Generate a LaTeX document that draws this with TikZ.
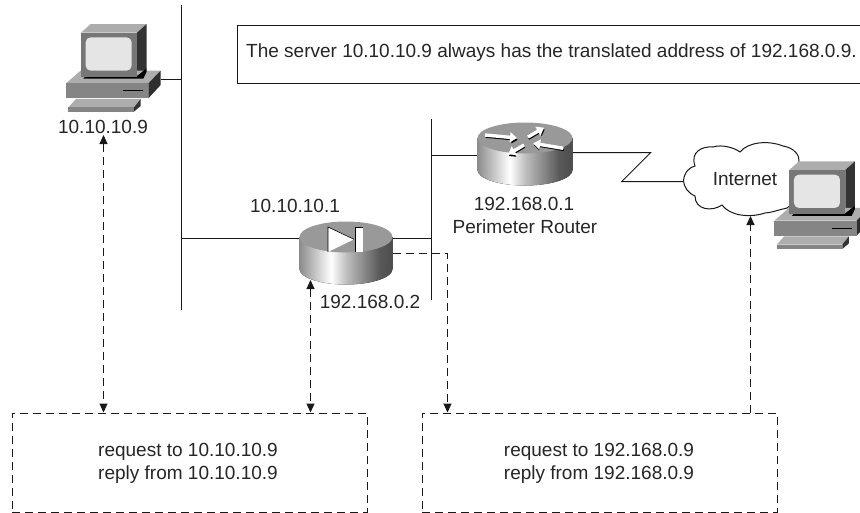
\documentclass[tikz,border=0pt]{standalone}
\usepackage{fontspec}
\setmainfont{Liberation Sans}
\usetikzlibrary{arrows.meta}
\definecolor{mgray}{gray}{0.52}
\definecolor{tgray}{gray}{0.68}
\definecolor{dgray}{gray}{0.2}
\definecolor{sgray}{gray}{0.9}
\pgfdeclarehorizontalshading{cyl}{100bp}{color(0bp)=(black!45);color(25bp)=(black!45);color(42bp)=(white);color(50bp)=(black!25);color(68bp)=(black!65);color(75bp)=(black!70);color(100bp)=(black!70)}
\tikzset{
  x=1pt,y=-1pt,
  wire/.style={line width=1pt,black!90},
  dashline/.style={line width=1pt,dash pattern=on 8pt off 5pt,black!90},
  onetip/.style={-{Triangle[length=9pt,width=8pt]}},
  twotips/.style={{Triangle[length=9pt,width=8pt]}-{Triangle[length=9pt,width=8pt]}},
  lbl/.style={font=\fontsize{19}{23}\selectfont,text=black!85,inner sep=0pt,align=center},
  pc/.pic={
    \begin{scope}[x=0.3333pt,y=-0.3333pt]
      \fill[tgray] (123,98)--(152,72)--(320,72)--(291,98)--cycle;
      \fill[dgray] (291,98)--(320,72)--(320,205)--(291,230)--cycle;
      \fill[tgray] (78,250)--(122,212)--(362,212)--(325,250)--cycle;
      \fill[black!10!dgray] (325,250)--(362,212)--(362,255)--(325,295)--cycle;
      \fill[mgray] (78,250) rectangle (325,295);
      \fill[black] (138,228)--(291,228)--(320,205)--(320,215)--(310,236)--(130,236)--cycle;
      \fill[mgray!90!black] (123,98) rectangle (291,230);
      \fill[sgray,rounded corners=5pt] (137,112) rectangle (275,212);
      \draw[black,line width=1pt] (250,273)--(310,273);
      \fill[tgray] (108,297)--(302,297)--(282,322)--(85,322)--cycle;
      \fill[mgray] (85,322) rectangle (282,335);
      \fill[dgray] (282,322)--(302,297)--(302,318)--(282,335)--cycle;
    \end{scope}
  }
}
\newcommand{\cyl}[3]{% cx, top cy, rx
  \fill[shading=cyl] (#1-#3,#2) -- (#1-#3,#2+32) arc[start angle=180,end angle=0,x radius=#3,y radius=15.5] -- (#1+#3,#2) -- cycle;
  \fill[black!40] (#1,#2) ellipse[x radius=#3,y radius=15.5];
}
\newcommand{\rarrow}[4]{% white arrow with dark shadow
  \draw[black,line width=2pt,-{Triangle[length=6pt,width=8pt]}] (#1+0.7,#2+1.8)--(#3+0.7,#4+1.8);
  \draw[white,line width=3.4pt,-{Triangle[length=7pt,width=10pt]}] (#1,#2)--(#3,#4);
}
\begin{document}
\begin{tikzpicture}
\useasboundingbox (0,0) rectangle (860,512);
\fill[white] (0,0) rectangle (860,512);

% named anchors
\coordinate (bus1t) at (181.5,5);
\coordinate (bus1b) at (181.5,310);
\coordinate (bus1pc) at (181.5,79.5);
\coordinate (bus1lb) at (181.5,238.5);
\coordinate (bus2t) at (431.5,119);
\coordinate (bus2b) at (431.5,300);
\coordinate (bus2lb) at (431.5,238.5);
\coordinate (bus2r) at (431.5,155.5);
\coordinate (pcport) at (161,79.5);
\coordinate (lbl) at (299.5,238.5);
\coordinate (lbr) at (392.5,238.5);
\coordinate (lbd) at (392.5,253.5);
\coordinate (lbbot) at (310.5,280);
\coordinate (rl) at (477.5,155.5);
\coordinate (rr) at (572.5,152.5);
\coordinate (z1) at (650.7,152.5);
\coordinate (z2) at (621.7,181.5);
\coordinate (cl) at (683.5,181.5);
\coordinate (d1) at (447.5,253.5);
\coordinate (pctip) at (103.5,135);
\coordinate (cloudb) at (750.5,216);

% boxes
\begin{scope}
\clip (0,0) rectangle (860,512);
\node[draw,line width=1pt,black!90,minimum width=640pt,minimum height=58pt,inner sep=0pt,anchor=north west] (note) at (236.5,24.5) {};
\end{scope}
\node[lbl,anchor=west] at (246,53) {The server 10.10.10.9 always has the translated address of 192.168.0.9.};
\node[dashline,draw,minimum width=355pt,minimum height=99pt,inner sep=0pt,anchor=north west] (b1) at (11.5,412.5) {};
\node[dashline,draw,minimum width=355pt,minimum height=99pt,inner sep=0pt,anchor=north west] (b2) at (421.5,412.5) {};
\node[lbl] at (188,463) {request to 10.10.10.9\\reply from 10.10.10.9};
\node[lbl] at (599,463) {request to 192.168.0.9\\reply from 192.168.0.9};

% buses and links
\draw[wire] (bus1t)--(bus1b);
\draw[wire] (bus2t)--(bus2b);
\draw[wire] (pcport)--(bus1pc);
\draw[wire] (bus1lb)--(lbl);
\draw[wire] (lbr)--(bus2lb);
\draw[wire] (bus2r)--(rl);
\draw[wire] (rr)--(z1)--(z2)--(cl);

% devices
\pic at (40,0) {pc};
\cyl{346}{237}{46.5}
\cyl{525}{138}{47.5}

% LB glyph
\fill[white] (328,227)--(354,239.3)--(328,252)--cycle;
\draw[black,line width=0.6pt] (328,252)--(328,227)--(354,239.3);
\fill[white] (355.3,227) rectangle (363.3,252);
\draw[black,line width=0.6pt] (355.3,252)--(355.3,227)--(363.3,227);

% router glyph
\rarrow{485}{135}{517}{138}
\rarrow{528}{137}{544}{127.7}
\rarrow{563.3}{148.3}{533.3}{143.3}
\rarrow{524}{145}{508.3}{154.3}

% cloud
\draw[wire,fill=white] (683.5,181)
  .. controls (684,172) and (690,167) .. (695,166)
  .. controls (690,152) and (702,146) .. (713,147)
  .. controls (722,144) and (735,148) .. (740,152)
  .. controls (748,142) and (768,140) .. (783,146)
  .. controls (795,148) and (800,156) .. (799,162)
  .. controls (812,175) and (805,195) .. (787,208)
  .. controls (778,210) and (770,213) .. (765,213)
  .. controls (750,218) and (730,216) .. (722,205)
  .. controls (712,212) and (695,210) .. (695,196)
  .. controls (688,193) and (684,187) .. (683.5,181) -- cycle;
\node[lbl] at (745,179) {Internet};
\pic at (748.3,137.3) {pc};

% labels
\node[lbl] at (103,127) {10.10.10.9};
\node[lbl] at (295,206) {10.10.10.1};
\node[lbl] at (370,302) {192.168.0.2};
\node[lbl] at (524,204) {192.168.0.1};
\node[lbl] at (525,227) {Perimeter Router};

% dashed connectors
\draw[dashline,twotips] (pctip)--(b1.north west -| pctip);
\draw[dashline,twotips] (lbbot)--(b1.north west -| lbbot);
\draw[dashline,onetip] (lbd)--(d1)--(b2.north west -| d1);
\draw[dashline,onetip] (b2.north west -| cloudb)--(cloudb);
\end{tikzpicture}
\end{document}
